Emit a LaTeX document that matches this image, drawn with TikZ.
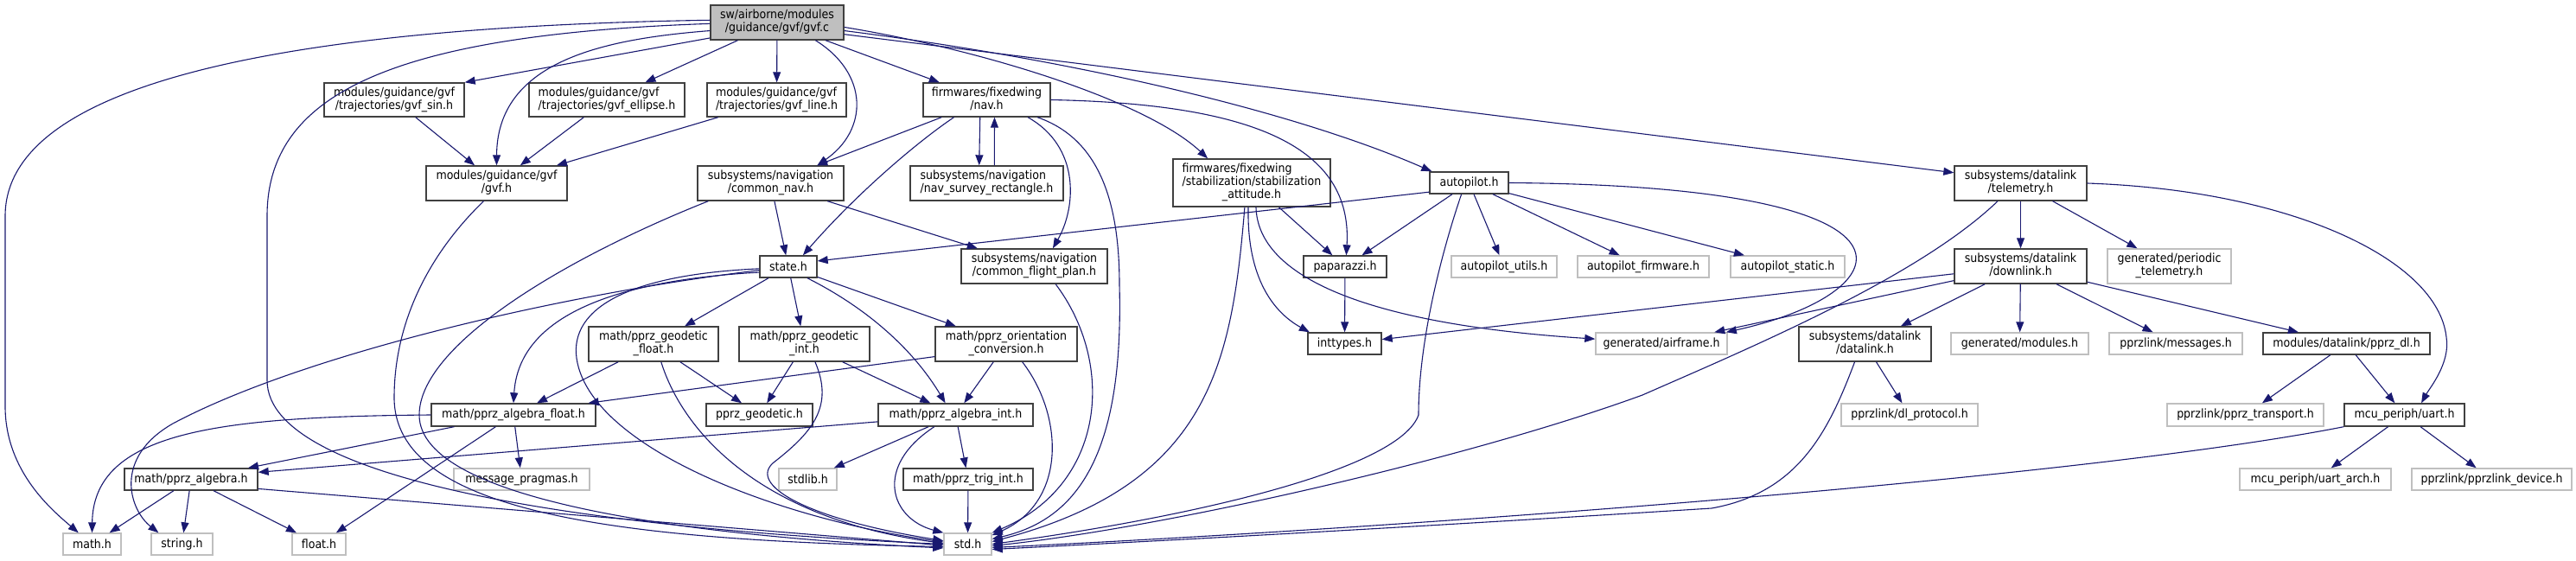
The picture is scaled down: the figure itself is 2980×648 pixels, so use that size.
\documentclass[tikz,border=0pt]{standalone}
\usepackage{fontspec}
\setmainfont{DejaVu Sans Condensed}
\usetikzlibrary{arrows.meta}

\definecolor{bleunuit}{HTML}{191970}
\definecolor{gris}{HTML}{BFBFBF}
\definecolor{bordure}{HTML}{404040}

\newcommand{\lignes}[2]{\begin{tabular}{@{}l@{}}#1\\\multicolumn{1}{@{}c@{}}{#2}\end{tabular}}

\begin{document}
\begin{tikzpicture}[x=1pt,y=-1pt,
    fichier/.style={draw=bordure,line width=1.4pt,fill=white,inner sep=0pt,minimum height=25pt,font=\fontsize{14}{15}\selectfont},
    externe/.style={fichier,draw=gris},
    racine/.style={fichier,fill=gris},
    inclut/.style={bleunuit,line width=1.1pt,-{Triangle[length=12pt,width=9pt]}}]

  \fill[white] (0,0) rectangle (2980,648);

  % Fichier source
  \node[racine,minimum width=154pt,minimum height=40pt] (gvfc) at (899,26) {\lignes{sw/airborne/modules}{/guidance/gvf/gvf.c}};

  % Rang 1
  \node[fichier,minimum width=162pt,minimum height=39pt] (gvfsin) at (456,115.5) {\lignes{modules/guidance/gvf}{/trajectories/gvf\_sin.h}};
  \node[fichier,minimum width=180pt,minimum height=39pt] (gvfellipse) at (702,115.5) {\lignes{modules/guidance/gvf}{/trajectories/gvf\_ellipse.h}};
  \node[fichier,minimum width=161pt,minimum height=39pt] (gvfline) at (898.5,115.5) {\lignes{modules/guidance/gvf}{/trajectories/gvf\_line.h}};
  \node[fichier,minimum width=147pt,minimum height=39pt] (navh) at (1141.5,115.5) {\lignes{firmwares/fixedwing}{/nav.h}};

  % Rang 2
  \node[fichier,minimum width=163pt,minimum height=40pt] (gvfh) at (574.5,212) {\lignes{modules/guidance/gvf}{/gvf.h}};
  \node[fichier,minimum width=169pt,minimum height=40pt] (commonnav) at (891.5,212) {\lignes{subsystems/navigation}{/common\_nav.h}};
  \node[fichier,minimum width=177pt,minimum height=40pt] (navsurvey) at (1141.5,212) {\lignes{subsystems/navigation}{/nav\_survey\_rectangle.h}};
  \node[fichier,minimum width=182pt,minimum height=55pt] (stabatt) at (1448,211.5) {\lignes{firmwares/fixedwing\\/stabilization/stabilization}{\_attitude.h}};
  \node[fichier,minimum width=91pt] (autopilot) at (1699.5,211.5) {autopilot.h};
  \node[fichier,minimum width=153pt,minimum height=40pt] (telemetry) at (2337.5,212) {\lignes{subsystems/datalink}{/telemetry.h}};

  % Rang 3
  \node[fichier,minimum width=66pt] (stateh) at (912,308.5) {state.h};
  \node[fichier,minimum width=169pt,minimum height=40pt] (commonfp) at (1196.5,308) {\lignes{subsystems/navigation}{/common\_flight\_plan.h}};
  \node[fichier,minimum width=96pt] (paparazzi) at (1556,308.5) {paparazzi.h};
  \node[externe,minimum width=122pt] (aputils) at (1740,308.5) {autopilot\_utils.h};
  \node[externe,minimum width=152pt] (apfirmware) at (1901,308.5) {autopilot\_firmware.h};
  \node[externe,minimum width=132pt] (apstatic) at (2068,308.5) {autopilot\_static.h};
  \node[fichier,minimum width=153pt,minimum height=40pt] (downlink) at (2337.5,308) {\lignes{subsystems/datalink}{/downlink.h}};
  \node[externe,minimum width=143pt,minimum height=40pt] (periodic) at (2509.5,308) {\lignes{generated/periodic}{\_telemetry.h}};

  % Rang 4
  \node[fichier,minimum width=150pt,minimum height=40pt] (geofloat) at (756,398) {\lignes{math/pprz\_geodetic}{\_float.h}};
  \node[fichier,minimum width=151pt,minimum height=40pt] (geoint) at (930.5,398) {\lignes{math/pprz\_geodetic}{\_int.h}};
  \node[fichier,minimum width=164pt,minimum height=40pt] (orient) at (1164,398) {\lignes{math/pprz\_orientation}{\_conversion.h}};
  \node[fichier,minimum width=85pt] (inttypes) at (1555.5,397.5) {inttypes.h};
  \node[externe,minimum width=152pt] (airframe) at (1922,397.5) {generated/airframe.h};
  \node[fichier,minimum width=153pt,minimum height=40pt] (datalink) at (2157.5,398) {\lignes{subsystems/datalink}{/datalink.h}};
  \node[externe,minimum width=159pt] (modules) at (2336.5,397.5) {generated/modules.h};
  \node[externe,minimum width=154pt] (messages) at (2517,397.5) {pprzlink/messages.h};
  \node[fichier,minimum width=193pt] (pprzdl) at (2714.5,397.5) {modules/datalink/pprz\_dl.h};

  % Rang 5
  \node[fichier,minimum width=190pt,minimum height=26pt] (algfloat) at (594,480) {math/pprz\_algebra\_float.h};
  \node[fichier,minimum width=123pt,minimum height=26pt] (geodetic) at (878.5,480) {pprz\_geodetic.h};
  \node[fichier,minimum width=179pt,minimum height=26pt] (algint) at (1105.5,480) {math/pprz\_algebra\_int.h};
  \node[externe,minimum width=158pt,minimum height=26pt] (dlprotocol) at (2209,480) {pprzlink/dl\_protocol.h};
  \node[externe,minimum width=181pt,minimum height=26pt] (transport) at (2597.5,480) {pprzlink/pprz\_transport.h};
  \node[fichier,minimum width=139pt,minimum height=26pt] (uart) at (2781.5,480) {mcu\_periph/uart.h};

  % Rang 6
  \node[fichier,minimum width=154pt] (algebra) at (221,554.5) {math/pprz\_algebra.h};
  \node[externe,minimum width=157pt] (pragmas) at (603.5,554.5) {message\_pragmas.h};
  \node[externe,minimum width=67pt] (stdlib) at (934.5,554.5) {stdlib.h};
  \node[fichier,minimum width=150pt] (trigint) at (1120,554.5) {math/pprz\_trig\_int.h};
  \node[externe,minimum width=175pt] (uartarch) at (2678.5,554.5) {mcu\_periph/uart\_arch.h};
  \node[externe,minimum width=185pt] (device) at (2882.5,554.5) {pprzlink/pprzlink\_device.h};

  % Rang 7
  \node[externe,minimum width=67pt] (mathh) at (106.5,629.5) {math.h};
  \node[externe,minimum width=71pt] (stringh) at (210.5,629.5) {string.h};
  \node[externe,minimum width=62pt] (floath) at (369,629.5) {float.h};
  \node[externe,minimum width=55pt] (stdh) at (1119.5,629.5) {std.h};

  % Inclusions directes
  \foreach \a/\b in {gvfc/gvfellipse, gvfc/gvfline, gvfc/navh, gvfsin/gvfh, gvfellipse/gvfh,
      gvfline/gvfh, commonnav/stateh, commonnav/commonfp, navh/commonnav, stabatt/paparazzi,
      paparazzi/inttypes, autopilot/paparazzi, autopilot/aputils, autopilot/apfirmware,
      autopilot/apstatic, telemetry/downlink, telemetry/periodic, downlink/inttypes,
      downlink/airframe, downlink/datalink, downlink/modules, downlink/messages, downlink/pprzdl,
      datalink/dlprotocol, pprzdl/transport, pprzdl/uart, uart/uartarch, uart/device,
      stateh/geofloat, stateh/geoint, stateh/orient, geofloat/algfloat, geofloat/geodetic,
      geoint/geodetic, geoint/algint, orient/algint, algint/stdlib, algint/trigint, trigint/stdh,
      algfloat/algebra, algfloat/pragmas, algfloat/floath, algebra/mathh, algebra/stringh,
      algebra/floath}
    \draw[inclut] (\a) -- (\b);

  % gvf.c
  \draw[inclut] (gvfc.178) .. controls (400,30) and (6,80) .. (6,250) -- (6,470)
    .. controls (6,545) and (60,590) .. (mathh.140);
  \draw[inclut] (gvfc.181) .. controls (450,40) and (309,110) .. (309,250) -- (309,440)
    .. controls (309,560) and (700,612) .. (stdh.180);
  \draw[inclut] (gvfc.187) .. controls (700,45) and (575,70) .. (gvfh.north);
  \draw[inclut] (gvfc.193) -- (gvfsin.north east);
  \draw[inclut] (gvfc.-25) .. controls (1005,85) and (1005,150) .. (commonnav.21);
  \draw[inclut] (gvfc.-4) .. controls (1150,60) and (1330,120) .. (stabatt.151);
  \draw[inclut] (gvfc.-7) .. controls (1250,70) and (1500,130) .. (autopilot.163);
  \draw[inclut] (gvfc.-10) -- (telemetry.171);

  % nav.h
  \draw[inclut] (navh.-152) .. controls (1060,165) and (990,225) .. (stateh.38);
  \draw[inclut] (navh.-111) -- (navsurvey.113);
  \draw[inclut] (navsurvey.67) -- (navh.-66);
  \draw[inclut] (navh.-23) .. controls (1250,170) and (1245,240) .. (commonfp.44);
  \draw[inclut] (navh.-19) .. controls (1270,160) and (1295,230) .. (1295,330)
    .. controls (1300,520) and (1250,600) .. (stdh.12);
  \draw[inclut] (navh.east) .. controls (1450,120) and (1565,170) .. (paparazzi.84);

  % gvf.h, common_nav.h, common_flight_plan.h
  \draw[inclut] (gvfh.-126) .. controls (490,300) and (456,380) .. (456,460)
    .. controls (456,590) and (700,625) .. (stdh.186);
  \draw[inclut] (commonnav.-164) .. controls (650,300) and (485,400) .. (485,480)
    .. controls (485,580) and (800,620) .. (stdh.189);
  \draw[inclut] (commonfp.-40) .. controls (1290,420) and (1280,560) .. (stdh.25);

  % stabilization_attitude.h
  \draw[inclut] (stabatt.-106) .. controls (1425,420) and (1400,560) .. (stdh.6);
  \draw[inclut] (stabatt.-98) .. controls (1442,330) and (1480,365) .. (inttypes.162);
  \draw[inclut] (stabatt.-80) .. controls (1455,320) and (1580,375) .. (airframe.176);

  % autopilot.h
  \draw[inclut] (autopilot.-167) -- (stateh.11);
  \draw[inclut] (autopilot.-124) .. controls (1665,300) and (1641,400) .. (1641,480)
    .. controls (1620,540) and (1400,595) .. (stdh.0);
  \draw[inclut] (autopilot.east) .. controls (2260,215) and (2200,340) .. (airframe.10);

  % telemetry.h, datalink.h, uart.h
  \draw[inclut] (telemetry.east) .. controls (2650,220) and (2820,300) .. (2830,390)
    .. controls (2835,420) and (2810,450) .. (uart.35);
  \draw[inclut] (telemetry.-142) .. controls (2220,320) and (2030,400) .. (1900,457)
    .. controls (1700,530) and (1350,610) .. (stdh.-4);
  \draw[inclut] (datalink.-120) .. controls (2115,500) and (2080,570) .. (1980,588)
    .. controls (1600,612) and (1300,628) .. (stdh.-12);
  \draw[inclut] (uart.south west) .. controls (2400,555) and (1600,612) .. (stdh.-8);

  % state.h
  \draw[inclut] (stateh.-31) .. controls (1010,360) and (1060,410) .. (algint.131);
  \draw[inclut] (stateh.184) .. controls (720,318) and (655,360) .. (668,420)
    .. controls (690,520) and (900,600) .. (stdh.175);
  \draw[inclut] (stateh.187) .. controls (650,340) and (350,410) .. (200,490)
    .. controls (130,530) and (150,590) .. (stringh.154);
  \draw[inclut] (stateh.191) .. controls (700,325) and (600,370) .. (algfloat.north);

  % math/
  \draw[inclut] (geofloat.-67) .. controls (790,500) and (880,600) .. (stdh.178);
  \draw[inclut] (geoint.-59) .. controls (965,470) and (940,500) .. (895,535)
    .. controls (865,560) and (930,600) .. (stdh.172);
  \draw[inclut] (orient.190) -- (algfloat.9);
  \draw[inclut] (orient.-48) .. controls (1230,480) and (1235,580) .. (stdh.20);
  \draw[inclut] (algint.185) -- (algebra.6);
  \draw[inclut] (algint.-151) .. controls (1010,540) and (1030,600) .. (stdh.north west);
  \draw[inclut] (algebra.-8) -- (stdh.183);
  \draw[inclut] (algfloat.west) .. controls (250,482) and (108,500) .. (mathh.north);

\end{tikzpicture}
\end{document}
